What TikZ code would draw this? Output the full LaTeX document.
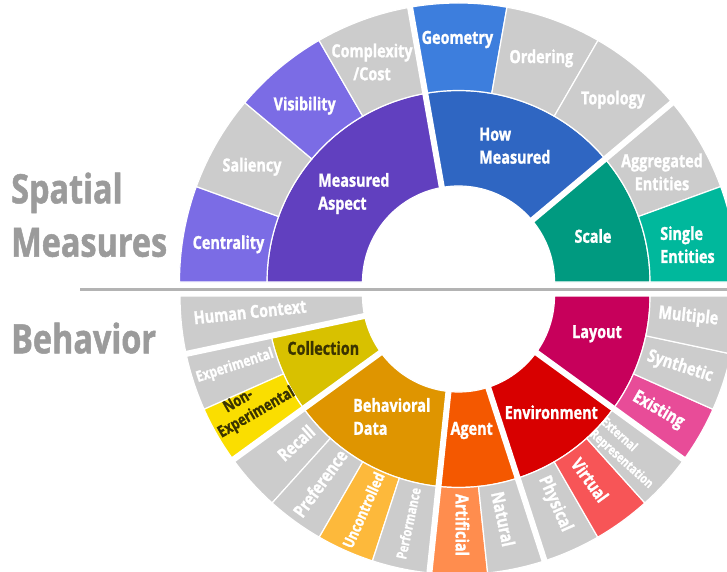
\documentclass[tikz,border=0pt]{standalone}
\usepackage{fontspec}
\newfontfamily\labfont{Open Sans}[FakeStretch=0.8, FakeBold=1.2]
\definecolor{grayseg}{HTML}{CCCCCC}
\definecolor{mapurple}{HTML}{6140BF}
\definecolor{lpurple}{HTML}{7B6CE5}
\definecolor{hmblue}{HTML}{2F66C2}
\definecolor{geoblue}{HTML}{3D7EDD}
\definecolor{scteal}{HTML}{009A80}
\definecolor{seteal}{HTML}{00B89C}
\definecolor{colly}{HTML}{D8C100}
\definecolor{nonexp}{HTML}{FADE00}
\definecolor{behav}{HTML}{DF9500}
\definecolor{uncont}{HTML}{FDB93B}
\definecolor{agentc}{HTML}{F45800}
\definecolor{artif}{HTML}{FF8D4E}
\definecolor{envir}{HTML}{D80000}
\definecolor{virt}{HTML}{F75557}
\definecolor{layoutc}{HTML}{C7005B}
\definecolor{exist}{HTML}{E84C98}
\definecolor{darktxt}{HTML}{3A3300}
\definecolor{bigtext}{HTML}{9B9B9B}
\definecolor{linegray}{HTML}{B3B3B3}
\newcommand{\wseg}[5]{\filldraw[fill=#5, draw=white, line width=1.2pt] (#1:#3) -- (#1:#4) arc[start angle=#1, end angle=#2, radius=#4] -- (#2:#3) arc[start angle=#2, end angle=#1, radius=#3] -- cycle;}
\newcommand{\gapline}[1]{\draw[white, line width=6pt] (#1:88) -- (#1:292);}
\tikzset{
  lab/.style={font=\labfont\bfseries\fontsize{18}{23}\selectfont, text=white, inner sep=0pt, align=left},
  labc/.style={lab, align=center},
  smalllab/.style={lab, font=\labfont\bfseries\fontsize{15}{18}\selectfont},
  darklab/.style={text=darktxt},
  biglab/.style={font=\labfont\bfseries\fontsize{40.5}{50}\selectfont, text=bigtext, inner sep=0pt, anchor=base west}
}
\begin{document}
\begin{tikzpicture}[x=1pt,y=1pt]
\useasboundingbox (0,0) rectangle (727,571);
\clip (0,0) rectangle (727,571);
% ---------- upper half: Spatial Measures ----------
\begin{scope}[shift={(458.5,289)}]
  \wseg{100}{180}{96}{191.5}{mapurple}
  \wseg{40}{100}{96}{191.5}{hmblue}
  \wseg{0}{40}{96}{191.5}{scteal}
  \wseg{160}{180}{191.5}{279}{lpurple}
  \wseg{140}{160}{191.5}{279}{grayseg}
  \wseg{120}{140}{191.5}{279}{lpurple}
  \wseg{100}{120}{191.5}{279}{grayseg}
  \wseg{80}{100}{191.5}{279}{geoblue}
  \wseg{60}{80}{191.5}{279}{grayseg}
  \wseg{40}{60}{191.5}{279}{grayseg}
  \wseg{20}{40}{191.5}{279}{grayseg}
  \wseg{0}{20}{191.5}{279}{seteal}
  \gapline{100}
  \gapline{40}
\end{scope}
% ---------- lower half: Behavior ----------
\begin{scope}[shift={(458.5,275)}]
  \wseg{180}{192}{96}{278.5}{grayseg}
  \wseg{192}{216}{96}{191.5}{colly}
  \wseg{216}{264}{96}{191.5}{behav}
  \wseg{264}{288}{96}{191.5}{agentc}
  \wseg{288}{324}{96}{191.5}{envir}
  \wseg{324}{360}{96}{191.5}{layoutc}
  \wseg{192}{204}{191.5}{278.5}{grayseg}
  \wseg{204}{216}{191.5}{278.5}{nonexp}
  \wseg{216}{228}{191.5}{278.5}{grayseg}
  \wseg{228}{240}{191.5}{278.5}{grayseg}
  \wseg{240}{252}{191.5}{278.5}{uncont}
  \wseg{252}{264}{191.5}{278.5}{grayseg}
  \wseg{264}{276}{191.5}{278.5}{artif}
  \wseg{276}{288}{191.5}{278.5}{grayseg}
  \wseg{288}{300}{191.5}{278.5}{grayseg}
  \wseg{300}{312}{191.5}{278.5}{virt}
  \wseg{312}{324}{191.5}{278.5}{grayseg}
  \wseg{324}{336}{191.5}{278.5}{exist}
  \wseg{336}{348}{191.5}{278.5}{grayseg}
  \wseg{348}{360}{191.5}{278.5}{grayseg}
  \gapline{192}
  \gapline{216}
  \gapline{264}
  \gapline{288}
  \gapline{324}
\end{scope}
% ---------- divider ----------
\coordinate (lineL) at (80,281.5);
\coordinate (lineR) at (727,281.5);
\draw[linegray, line width=2.5pt] (lineL) -- (lineR);
% ---------- big titles ----------
\node[biglab] (tSpatial) at (11,367.7) {Spatial};
\node[biglab] (tMeasures) at (11,314.3) {Measures};
\node[biglab] (tBehavior) at (11,217.7) {Behavior};
% ---------- upper labels ----------
\node[lab, anchor=west] (lMA) at (318,377.5) {Measured\\Aspect};
\node[lab, anchor=west] (lHM) at (479,425.2) {How\\Measured};
\node[lab] (lScale) at (593,335) {Scale};
\node[lab] (lCentrality) at (228.5,326.7) {Centrality};
\node[lab] (lSaliency) at (252,404.2) {Saliency};
\node[lab] (lVisibility) at (304.7,465.3) {Visibility};
\node[labc] (lComplexity) at (372,509) {Complexity\\/Cost};
\node[lab] (lGeometry) at (457.4,531.5) {Geometry};
\node[lab] (lOrdering) at (541.3,512.6) {Ordering};
\node[lab] (lTopology) at (613,471.3) {Topology};
\node[labc] (lAggregated) at (662,399) {Aggregated\\Entities};
\node[lab, anchor=west] (lSingle) at (660,326.3) {Single\\Entities};
% ---------- lower inner labels ----------
\node[lab, darklab] (lCollection) at (323.3,223) {Collection};
\node[lab, anchor=west] (lBehavioral) at (353,154.5) {Behavioral\\Data};
\node[lab] (lAgent) at (471.7,140.5) {Agent};
\node[lab] (lEnvironment) at (551.3,158.8) {Environment};
\node[lab] (lLayout) at (597,237.2) {Layout};
% ---------- lower outer labels ----------
\node[lab, rotate=6] (lHuman) at (250,259) {Human Context};
\node[smalllab, rotate=18] (lExperimental) at (235,205) {Experimental};
\node[smalllab, darklab, align=center, rotate=30, font=\labfont\bfseries\fontsize{16}{19}\selectfont] (lNonExp) at (252,166) {Non-\hspace*{20pt}\\Experimental};
\node[lab, rotate=42] (lRecall) at (296,128) {Recall};
\node[lab, rotate=54] (lPreference) at (320,87.7) {Preference};
\node[smalllab, rotate=66, font=\labfont\bfseries\fontsize{15.5}{18}\selectfont] (lUncontrolled) at (363.3,61) {Uncontrolled};
\node[smalllab, rotate=78, font=\labfont\bfseries\fontsize{14}{17}\selectfont] (lPerformance) at (408.3,47.7) {Performance};
\node[lab, rotate=-90] (lArtificial) at (462.5,46) {Artificial};
\node[lab, rotate=-78] (lNatural) at (503.3,52) {Natural};
\node[lab, rotate=-66] (lPhysical) at (555,67) {Physical};
\node[lab, rotate=-54] (lVirtual) at (590,91) {Virtual};
\node[smalllab, rotate=-42, font=\labfont\bfseries\fontsize{13}{16.5}\selectfont] (lExtRep) at (626.7,117.7) {External\\Representation};
\node[lab, rotate=-30] (lExisting) at (658.3,161) {Existing};
\node[lab, rotate=-18] (lSynthetic) at (680,204.3) {Synthetic};
\node[lab, rotate=-6] (lMultiple) at (688.3,254.3) {Multiple};
\end{tikzpicture}
\end{document}
